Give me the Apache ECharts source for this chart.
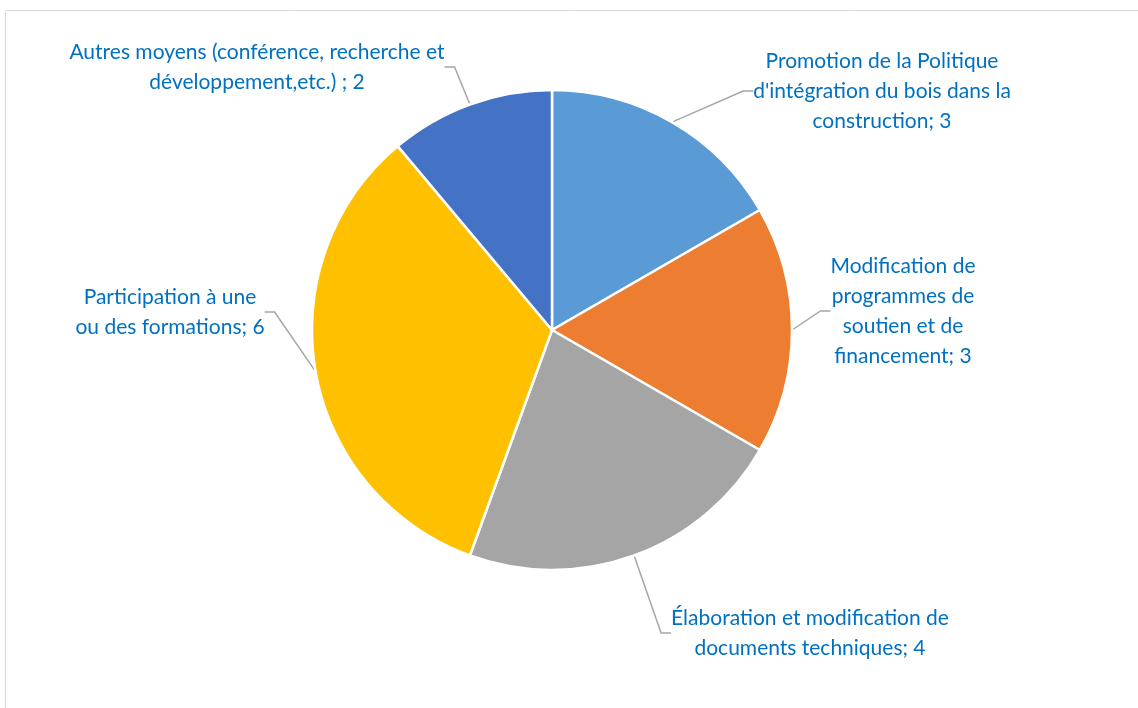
<!DOCTYPE html>
<html>
<head>
<meta charset="utf-8">
<script src="https://cdn.jsdelivr.net/npm/echarts@6/dist/echarts.min.js"></script>
<style>
html,body{margin:0;padding:0;background:#fff;}
#chart{width:1138px;height:708px;}
</style>
</head>
<body>
<div id="chart"></div>
<script>
const categories = [
  "Promotion de la Politique\nd'intégration du bois dans la\nconstruction",
  "Modification de\nprogrammes de\nsoutien et de\nfinancement",
  "Élaboration et modification de\ndocuments techniques",
  "Participation à une\nou des formations",
  "Autres moyens (conférence, recherche et\ndéveloppement,etc.) "
];
const values = [3, 3, 4, 6, 2];
const colors = ['#5B9BD5', '#ED7D31', '#A5A5A5', '#FFC000', '#4472C4'];
// label block centres (layout only)
const labelPos = [[882, 91], [903, 311], [810, 633], [170, 312], [257, 67]];

const chart = echarts.init(document.getElementById('chart'), null, {renderer: 'canvas'});
chart.setOption({
  backgroundColor: '#fff',
  animation: false,
  graphic: [{
    type: 'rect', silent: true, z: -1,
    shape: {x: 5.5, y: 10.5, width: 1300, height: 900},
    style: {fill: 'none', stroke: '#D9D9D9', lineWidth: 1}
  }],
  series: [{
    type: 'pie',
    center: [552, 330],
    radius: [0, 240],
    startAngle: 90,
    clockwise: true,
    data: categories.map((c, i) => ({name: c, value: values[i], itemStyle: {color: colors[i]}})),
    itemStyle: {borderColor: '#fff', borderWidth: 2.5},
    label: {
      show: true,
      position: 'outside',
      formatter: '{b}; {c}',
      color: '#0070C0',
      fontFamily: 'Lato, "Open Sans", sans-serif',
      fontSize: 21,
      lineHeight: 30,
      align: 'center'
    },
    labelLine: {show: true, length: 15, length2: 10, lineStyle: {color: '#A6A6A6', width: 1.5}},
    labelLayout: function (p) {
      const pos = labelPos[p.dataIndex];
      return {x: pos[0], y: pos[1], align: 'center', verticalAlign: 'middle'};
    },
    emphasis: {disabled: true}
  }]
});
</script>
</body>
</html>
